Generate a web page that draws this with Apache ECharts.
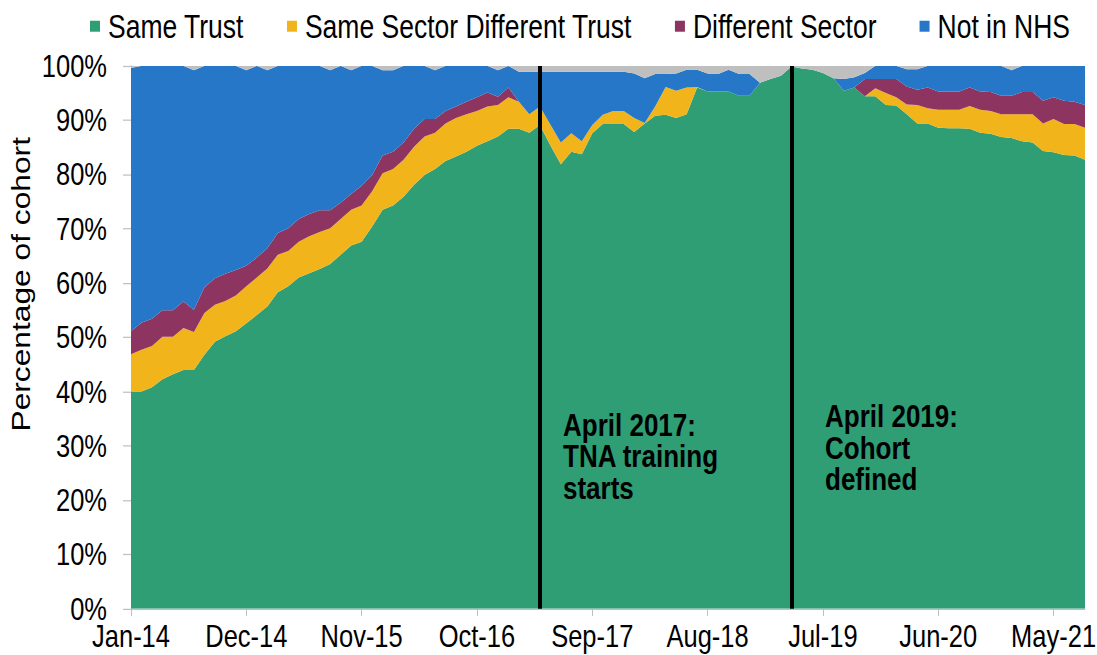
<!DOCTYPE html>
<html>
<head>
<meta charset="utf-8">
<title>Cohort retention</title>
<script src="https://cdn.jsdelivr.net/npm/echarts@6.0.0/dist/echarts.min.js"></script>
<style>
  html, body { margin: 0; padding: 0; background: #fff; width: 1097px; height: 655px; }
  #wrap { position: relative; width: 1097px; height: 655px; }
  /* the source picture is stretched vertically (text is taller than Arial),
     so the chart is laid out 537px high and stretched to 655px */
  #main { position: absolute; left: 0; top: 0; width: 1097px; height: 537px; transform: scaleY(1.22); transform-origin: 0 0; }
</style>
</head>
<body>
<div id="wrap"><div id="main"></div></div>
<script>
// months Jan-14 .. Aug-21
const months = [
  'Jan-14', 'Feb-14', 'Mar-14', 'Apr-14', 'May-14', 'Jun-14', 'Jul-14', 'Aug-14', 'Sep-14', 'Oct-14', 'Nov-14', 'Dec-14',
  'Jan-15', 'Feb-15', 'Mar-15', 'Apr-15', 'May-15', 'Jun-15', 'Jul-15', 'Aug-15', 'Sep-15', 'Oct-15', 'Nov-15', 'Dec-15',
  'Jan-16', 'Feb-16', 'Mar-16', 'Apr-16', 'May-16', 'Jun-16', 'Jul-16', 'Aug-16', 'Sep-16', 'Oct-16', 'Nov-16', 'Dec-16',
  'Jan-17', 'Feb-17', 'Mar-17', 'Apr-17', 'May-17', 'Jun-17', 'Jul-17', 'Aug-17', 'Sep-17', 'Oct-17', 'Nov-17', 'Dec-17',
  'Jan-18', 'Feb-18', 'Mar-18', 'Apr-18', 'May-18', 'Jun-18', 'Jul-18', 'Aug-18', 'Sep-18', 'Oct-18', 'Nov-18', 'Dec-18',
  'Jan-19', 'Feb-19', 'Mar-19', 'Apr-19', 'May-19', 'Jun-19', 'Jul-19', 'Aug-19', 'Sep-19', 'Oct-19', 'Nov-19', 'Dec-19',
  'Jan-20', 'Feb-20', 'Mar-20', 'Apr-20', 'May-20', 'Jun-20', 'Jul-20', 'Aug-20', 'Sep-20', 'Oct-20', 'Nov-20', 'Dec-20',
  'Jan-21', 'Feb-21', 'Mar-21', 'Apr-21', 'May-21', 'Jun-21', 'Jul-21', 'Aug-21'
]

// percentage of cohort in each destination
const sameTrust = [
  40.0, 40.0, 40.8, 42.3, 43.2, 44.0, 44.0, 46.8, 49.2, 50.2,
  51.1, 52.6, 54.1, 55.7, 58.3, 59.4, 61.0, 61.8, 62.6, 63.5,
  65.2, 66.9, 67.6, 70.4, 73.5, 74.3, 75.9, 78.1, 79.9, 81.0,
  82.5, 83.3, 84.2, 85.3, 86.1, 87.0, 88.4, 88.4, 87.7, 89.1,
  85.4, 81.9, 84.2, 83.7, 87.6, 89.3, 89.3, 89.3, 87.8, 89.4,
  90.8, 91.0, 90.4, 91.1, 96.0, 95.3, 95.3, 95.3, 94.5, 94.5,
  96.9, 97.6, 98.2, 99.9, 99.5, 99.3, 98.7, 97.7, 95.4, 96.0,
  94.4, 94.4, 92.8, 92.7, 91.1, 89.4, 89.4, 88.6, 88.5, 88.5,
  88.4, 87.7, 87.5, 86.9, 86.7, 86.1, 85.9, 84.3, 84.1, 83.6,
  83.5, 82.7
]
const sameSector = [
  6.9, 7.7, 7.6, 7.8, 6.9, 7.7, 7.0, 7.7, 6.8, 6.5,
  6.6, 6.8, 6.9, 7.0, 6.9, 6.5, 6.6, 6.8, 6.8, 6.6,
  6.6, 6.6, 6.7, 6.5, 6.7, 6.7, 6.8, 7.0, 7.1, 6.7,
  6.9, 7.1, 6.9, 6.4, 6.4, 5.8, 5.8, 5.0, 3.4, 3.4,
  3.8, 4.0, 3.4, 2.4, 1.5, 1.7, 2.4, 2.4, 2.6, 0.1,
  1.7, 5.1, 5.0, 4.9, 0.1, 0, 0, 0, 0, 0,
  0, 0, 0, 0, 0, 0, 0, 0, 0, 0,
  0, 1.5, 2.2, 1.5, 1.8, 3.4, 2.8, 3.3, 3.4, 3.4,
  4.2, 4.2, 4.2, 4.2, 4.4, 5.0, 5.2, 5.1, 6.1, 5.7,
  5.8, 5.9
]
const diffSector = [
  4.2, 5.0, 5.0, 4.9, 4.9, 4.9, 4.1, 4.7, 4.9, 5.0,
  4.7, 3.8, 3.7, 3.7, 4.0, 4.2, 4.2, 4.1, 4.0, 3.3,
  3.0, 2.9, 3.6, 3.0, 3.3, 3.2, 3.2, 3.3, 3.2, 2.5,
  2.3, 2.1, 2.3, 2.5, 2.6, 1.5, 1.8, 0, 0, 0,
  0, 0, 0, 0, 0, 0, 0, 0, 0, 0,
  0, 0, 0, 0, 0, 0, 0, 0, 0, 0,
  0, 0, 0, 0, 0, 0, 0, 0, 0, 0,
  3.2, 1.7, 2.6, 3.4, 3.3, 2.8, 3.8, 3.4, 3.4, 3.4,
  3.4, 3.4, 3.5, 3.4, 3.4, 4.1, 4.1, 4.2, 4.0, 4.3,
  4.1, 4.2
]
const notInNhs = [
  48.5, 47.3, 46.6, 45.0, 45.0, 43.4, 44.1, 40.8, 39.1, 38.3,
  37.6, 36.0, 35.3, 32.8, 30.8, 29.9, 28.2, 27.3, 26.6, 25.8,
  25.2, 22.8, 22.1, 20.1, 15.7, 15.0, 14.1, 11.6, 9.8, 9.0,
  8.3, 7.5, 6.6, 5.8, 4.9, 4.9, 4.0, 5.5, 7.8, 6.4,
  9.7, 13.0, 11.3, 12.8, 9.8, 7.9, 7.2, 7.2, 8.2, 8.2,
  6.0, 2.4, 3.2, 3.3, 3.2, 3.3, 3.2, 4.0, 4.0, 4.0,
  0, 0, 0, 0, 0, 0, 0, 0, 2.2, 1.9,
  1.1, 2.4, 2.4, 2.4, 3.2, 3.8, 4.0, 4.7, 4.7, 4.7,
  4.0, 4.7, 4.8, 5.5, 4.7, 4.8, 4.8, 6.4, 5.8, 6.4,
  6.6, 7.2
]
// unknown destination (grey band, not in legend)
const unknown = [
  0.4, 0, 0, 0, 0, 0, 0.8, 0, 0, 0,
  0, 0.8, 0, 0.8, 0, 0, 0, 0, 0, 0.8,
  0, 0.8, 0, 0, 0.8, 0.8, 0, 0, 0, 0.8,
  0, 0, 0, 0, 0, 0.8, 0, 1.1, 1.1, 1.1,
  1.1, 1.1, 1.1, 1.1, 1.1, 1.1, 1.1, 1.1, 1.4, 2.3,
  1.5, 1.5, 1.4, 0.7, 0.7, 1.4, 1.5, 0.7, 1.5, 1.5,
  3.1, 2.4, 1.8, 0.1, 0.5, 0.7, 1.3, 2.3, 2.4, 2.1,
  1.3, 0, 0, 0, 0.6, 0.6, 0, 0, 0, 0,
  0, 0, 0, 0, 0.8, 0, 0, 0, 0, 0,
  0, 0
]

const events = ['Apr-17', 'Apr-19']
const font = '"Liberation Sans", Arial, sans-serif'

function area (name, data, color) {
  return {
    name: name,
    type: 'line',
    stack: 'cohort',
    data: data,
    symbol: 'none',
    lineStyle: { width: 0 },
    areaStyle: { color: color, opacity: 1 },
    itemStyle: { color: color }
  }
}

const series = [
  area('Same Trust', sameTrust, '#2F9E74'),
  area('Same Sector Different Trust', sameSector, '#F1B51B'),
  area('Different Sector', diffSector, '#8E3460'),
  area('Not in NHS', notInNhs, '#2677C7'),
  area('Unknown', unknown, '#BFBFBF')
]
// the two event lines sit on the top series so nothing covers them
series[4].markLine = {
  silent: true,
  symbol: 'none',
  label: { show: false },
  lineStyle: { color: '#000', width: 4, type: 'solid' },
  data: events.map(m => ({ xAxis: m }))
}

const note = {
  fontSize: 26,
  fontWeight: 'bold',
  fontFamily: font,
  lineHeight: 26,
  fill: '#000'
}

const option = {
  animation: false,
  textStyle: { fontFamily: font },
  legend: {
    data: ['Same Trust', 'Same Sector Different Trust', 'Different Sector', 'Not in NHS'],
    left: 85,
    top: 3,
    icon: 'rect',
    itemWidth: 10,
    itemHeight: 9,
    itemGap: 43,
    textStyle: { fontSize: 26.5, color: '#000', fontFamily: font, padding: [0, 0, 0, 3] }
  },
  grid: { left: 131, right: 12, top: 54, bottom: 38, containLabel: false, outerBoundsMode: 'none' },
  xAxis: {
    type: 'category',
    data: months,
    boundaryGap: false,
    axisLine: { lineStyle: { color: '#BFBFBF', width: 1 } },
    axisTick: { interval: 10, length: 6, lineStyle: { color: '#BFBFBF' } },
    axisLabel: { interval: 10, fontSize: 25.5, color: '#000', margin: 9.5, fontFamily: font }
  },
  yAxis: {
    type: 'value',
    min: 0,
    max: 100,
    interval: 10,
    axisLine: { show: true, lineStyle: { color: '#BFBFBF', width: 1 } },
    axisTick: { show: true, length: 8, lineStyle: { color: '#BFBFBF' } },
    axisLabel: { formatter: '{value}%', fontSize: 25.5, color: '#000', margin: 24, fontFamily: font },
    splitLine: { show: false }
  },
  graphic: [
    {
      // y axis title, sits a little above the middle of the axis
      type: 'text',
      x: 21.5,
      y: 233,
      rotation: Math.PI / 2,
      z: 100,
      style: {
        text: 'Percentage of cohort',
        fontSize: 26,
        fontFamily: font,
        fill: '#000',
        align: 'center',
        verticalAlign: 'middle'
      }
    },
    {
      type: 'text',
      left: 563,
      top: 335,
      z: 100,
      style: Object.assign({ text: 'April 2017:\nTNA training\nstarts' }, note)
    },
    {
      type: 'text',
      left: 825,
      top: 328,
      z: 100,
      style: Object.assign({ text: 'April 2019:\nCohort\ndefined' }, note)
    }
  ],
  series: series
}

const myChart = echarts.init(document.getElementById('main'), null, { renderer: 'svg' })
myChart.setOption(option)
</script>
</body>
</html>
